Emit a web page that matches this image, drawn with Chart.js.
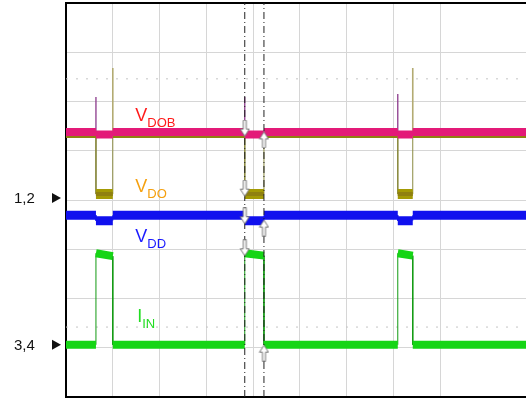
<!DOCTYPE html>
<html><head><meta charset="utf-8">
<script src="https://cdn.jsdelivr.net/npm/chart.js@4.4.0/dist/chart.umd.min.js"></script>
<style>html,body{margin:0;padding:0;background:#fff;overflow:hidden}#wrap{width:526px;height:398px;position:relative}</style>
</head><body><div id="wrap"><canvas id="c" width="526" height="398"></canvas></div>
<script>
// Horizontal axis: screen divisions (time); vertical axis: screen divisions.
const pulseStart = [0.64, 3.82, 7.09];
const pulseEnd   = [1.00, 4.23, 7.41];
const timeEnd = 9.83;

const vdobIdle = 5.38;
const vdobPulse = [5.33, 5.33, 5.33];
const vdoIdle = 5.30;
const vdoPulse = [4.12, 4.12, 4.12];
const vddIdle = 3.69;
const vddPulse = [3.58, 3.58, 3.58];
const iinIdle = 1.06;
const iinPulseStart = [2.92, 2.92, 2.92];
const iinPulseEnd = [2.86, 2.87, 2.87];

const riseSpikeX = [0.64, 3.82, 7.09];
const riseSpikeTop = [6.09, 6.09, 6.15];
const fallSpikeX = [1.00, 7.41];
const fallSpikeTop = [6.68, 6.68];

const cursorX = [3.82, 4.23];
const downArrowY = [5.46, 4.24, 3.68, 3.03];
const upArrowY = [5.22, 3.43, 0.89];
const refMarkY = [6.46, 1.42];

const channelMarks = [{text:'1,2', y:4.04}, {text:'3,4', y:1.06}];
const traceLabels = [
  {main:'V', sub:'DOB', color:'#ff1a1a', x:1.48, y:5.6},
  {main:'V', sub:'DO',  color:'#f5a00f', x:1.48, y:4.16},
  {main:'V', sub:'DD',  color:'#1a1aff', x:1.48, y:3.14},
  {main:'I', sub:'IN',  color:'#22dd22', x:1.52, y:1.52}
];

function pieces(idle, a, b) {
  const pts = []; let prev = 0;
  for (let i = 0; i < pulseStart.length; i++) {
    pts.push({x:prev,y:idle},{x:pulseStart[i],y:idle},{x:pulseStart[i],y:null});
    pts.push({x:pulseStart[i],y:a[i]},{x:pulseEnd[i],y:b[i]},{x:pulseEnd[i],y:null});
    prev = pulseEnd[i];
  }
  pts.push({x:prev,y:idle},{x:timeEnd,y:idle});
  return pts;
}
function edges(idle, a, b) {
  const pts = [];
  for (let i = 0; i < pulseStart.length; i++) {
    pts.push({x:pulseStart[i],y:idle},{x:pulseStart[i],y:a[i]},{x:pulseStart[i],y:null});
    pts.push({x:pulseEnd[i],y:b[i]},{x:pulseEnd[i],y:idle},{x:pulseEnd[i],y:null});
  }
  return pts;
}
function spikes(xs, tops, base) {
  const pts = [];
  xs.forEach((x,i)=>{pts.push({x:x,y:base},{x:x,y:tops[i]},{x:x,y:null});});
  return pts;
}
function vlines(xs) {
  const pts = [];
  xs.forEach(x=>{pts.push({x:x,y:0},{x:x,y:8},{x:x,y:null});});
  return pts;
}
function hlines(ys) {
  const pts = [];
  ys.forEach(y=>{pts.push({x:0,y:y},{x:timeEnd,y:y},{x:timeEnd,y:null});});
  return pts;
}
function arrowImg(up) {
  const c = document.createElement('canvas'); c.width = 11; c.height = 17;
  const g = c.getContext('2d');
  g.translate(5.5, 8.5); if (up) g.rotate(Math.PI);
  g.beginPath();
  g.moveTo(-1.5,-8); g.lineTo(1.5,-8); g.lineTo(1.5,1); g.lineTo(4.5,1);
  g.lineTo(0,8); g.lineTo(-4.5,1); g.lineTo(-1.5,1); g.closePath();
  g.fillStyle = '#fff'; g.fill(); g.strokeStyle = '#777'; g.lineWidth = 1; g.stroke();
  return c;
}

const thick = (data, color, w) => ({data, borderColor:color, borderWidth:w, borderCapStyle:'butt', pointRadius:0, spanGaps:false, tension:0});
const thin = (data, color, w, dash) => ({data, borderColor:color, borderWidth:w||1, borderDash:dash||[], pointRadius:0, spanGaps:false, tension:0});

const datasets = [
  {type:'scatter', data: downArrowY.map(y=>({x:cursorX[0], y})), pointStyle: arrowImg(false), pointRadius:6, showLine:false},
  {type:'scatter', data: upArrowY.map(y=>({x:cursorX[1], y})), pointStyle: arrowImg(true), pointRadius:6, showLine:false},
  thin(vlines(cursorX), '#222', 1, [7,3,1,3]),
  thick(pieces(vdobIdle, vdobPulse, vdobPulse), '#e31a78', 8),
  thin(edges(vdobIdle, vdobPulse, vdobPulse), '#e31a78', 1),
  thick(pieces(vddIdle, vddPulse, vddPulse), '#1010ee', 9),
  thin(edges(vddIdle, vddPulse, vddPulse), '#1010ee', 1),
  thin(spikes(riseSpikeX, riseSpikeTop, vdobIdle), '#8c3a8c', 1.3),
  thin(spikes(fallSpikeX, fallSpikeTop, vdoIdle), '#b3ab72', 1.6),
  thick(pieces(vdoIdle, vdoPulse, vdoPulse), '#8f8010', 4),
  thin(edges(vdoIdle, vdoPulse, vdoPulse), '#8a8a40', 1),
  thick(pieces(iinIdle, iinPulseStart, iinPulseEnd), '#15d515', 8),
  thin(edges(iinIdle, iinPulseStart, iinPulseEnd), '#129a12', 1),
  thin(hlines(refMarkY), '#c4c4c4', 1, [2,8])
];
// olive pulse blocks are thicker than its idle trace
datasets.splice(10, 0, thick(pieces(NaN, vdoPulse, vdoPulse), '#a39a05', 10));

const labelPlugin = {
  id:'labels',
  afterDatasetsDraw(chart) {
    const ctx = chart.ctx, xs = chart.scales.x, ys = chart.scales.y;
    ctx.save();
    traceLabels.forEach(l => {
      const px = xs.getPixelForValue(l.x), py = ys.getPixelForValue(l.y);
      ctx.fillStyle = l.color; ctx.textBaseline = 'alphabetic'; ctx.textAlign = 'left';
      ctx.font = '18px "Liberation Sans", Arial, sans-serif';
      ctx.fillText(l.main, px, py);
      const w = ctx.measureText(l.main).width;
      ctx.font = '13px "Liberation Sans", Arial, sans-serif';
      ctx.fillText(l.sub, px + w, py + 6);
    });
    channelMarks.forEach(m => {
      const py = ys.getPixelForValue(m.y);
      ctx.fillStyle = '#111'; ctx.textBaseline = 'middle'; ctx.textAlign = 'left';
      ctx.font = '15px "Liberation Sans", Arial, sans-serif';
      ctx.fillText(m.text, 14, py + 1);
      ctx.beginPath(); ctx.moveTo(52, py - 5); ctx.lineTo(61, py); ctx.lineTo(52, py + 5); ctx.closePath(); ctx.fill();
    });
    ctx.restore();
  }
};

new Chart(document.getElementById('c'), {
  type:'line',
  data:{datasets},
  options:{
    responsive:false, animation:false, events:[],
    layout:{autoPadding:false, padding:{left:66, top:3, right:0, bottom:1}},
    plugins:{legend:{display:false}, tooltip:{enabled:false}},
    scales:{
      x:{type:'linear', min:0, max:timeEnd, ticks:{display:false, stepSize:1},
         afterFit:s=>{s.height=0; s.paddingLeft=0; s.paddingRight=0;},
         grid:{drawTicks:false, color:c=>c.tick && c.tick.value===0 ? 'rgba(0,0,0,0)' : '#d6d6d6'},
         border:{display:true, color:'#000', width:2}},
      y:{type:'linear', min:0, max:8, ticks:{display:false, stepSize:1},
         afterFit:s=>{s.width=0; s.paddingTop=0; s.paddingBottom=0;},
         grid:{drawTicks:false, color:c=>c.tick && c.tick.value===8 ? '#000' : (c.tick && c.tick.value===0 ? 'rgba(0,0,0,0)' : '#d6d6d6'),
               lineWidth:c=>c.tick && c.tick.value===8 ? 2 : 1},
         border:{display:true, color:'#000', width:2}}
    }
  },
  plugins:[labelPlugin]
});
</script></body></html>
